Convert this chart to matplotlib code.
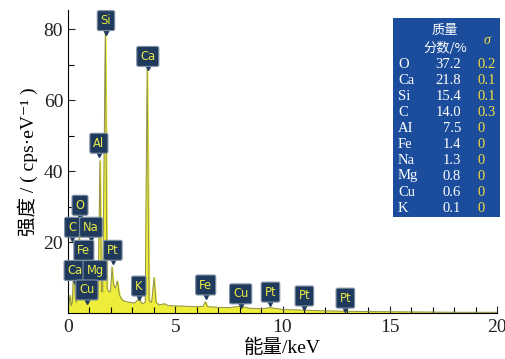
import numpy as np
import matplotlib
matplotlib.use("Agg")
import matplotlib.pyplot as plt
import matplotlib.transforms as mtransforms

plt.rcParams['font.family'] = ['Liberation Serif', 'DejaVu Serif', 'Noto Sans CJK SC']

# --- spectrum (keV, cps/eV) ---
energy = [0.00, 0.05, 0.10, 0.15, 0.20, 0.28, 0.34, 0.40, 0.48, 0.525, 0.57, 0.62,
          0.70, 0.76, 0.82, 0.90, 0.96, 1.04, 1.10, 1.16, 1.25, 1.32, 1.40, 1.49,
          1.56, 1.62, 1.74, 1.82, 1.90, 1.98, 2.05, 2.12, 2.20, 2.30, 2.40, 2.55,
          2.70, 2.90, 3.10, 3.31, 3.45, 3.60, 3.69, 3.78, 3.90, 4.01, 4.10, 4.25,
          4.50, 4.65, 5.0, 5.5, 6.0, 6.3, 6.40, 6.5, 7.0, 7.5, 8.05, 8.5, 9.0,
          9.44, 10.0, 11.0, 12.0, 13.0, 14.0, 16.0, 18.0, 20.0]
intensity = [0, 3, 5, 2, 3, 15, 4, 3, 6, 22, 6, 4,
             11, 4, 3.5, 5, 4, 17, 5, 4, 10, 4.5, 5, 43,
             6, 6, 80, 7, 6, 6, 13, 8, 7, 9, 5, 3.5,
             3.2, 3, 2.8, 4, 2.6, 3, 69, 3.5, 3, 10, 3, 2.3,
             2.6, 2.1, 2.0, 1.9, 1.8, 1.9, 3.2, 1.8, 1.6, 1.5, 1.9, 1.3, 1.2,
             1.5, 1.0, 0.8, 0.6, 0.5, 0.4, 0.3, 0.2, 0.2]

# peak tags: name, x (keV), y (cps/eV)
tag_names = ['Si', 'Ca', 'Al', 'O', 'C', 'Na', 'Fe', 'Pt', 'Ca', 'Mg', 'Cu',
             'K', 'Fe', 'Cu', 'Pt', 'Pt', 'Pt']
tag_x = [1.77, 3.72, 1.44, 0.56, 0.19, 1.07, 0.74, 2.09, 0.33, 1.26, 0.88,
         3.30, 6.42, 8.05, 9.44, 11.02, 12.93]
tag_y = [82.5, 72.4, 47.9, 30.4, 24.2, 24.2, 17.7, 17.7, 12.0, 12.0, 6.5,
         7.6, 7.9, 5.4, 5.9, 4.8, 4.2]

# table
elements = ['O', 'Ca', 'Si', 'C', 'AI', 'Fe', 'Na', 'Mg', 'Cu', 'K']
mass_pct = ['37.2', '21.8', '15.4', '14.0', '7.5', '1.4', '1.3', '0.8', '0.6', '0.1']
sigma = ['0.2', '0.1', '0.1', '0.3', '0', '0', '0', '0', '0', '0']

W, H = 506, 359
fig = plt.figure(figsize=(W / 100, H / 100), dpi=100)
ax = fig.add_axes([68 / W, 1 - 313 / H, (497 - 68) / W, (313 - 10) / H])

ax.fill_between(energy, intensity, 0, color='#eeee3a', lw=1.2, edgecolor='#eeee3a')
ax.plot(energy, intensity, color='#8f8f55', lw=0.7)

ax.set_xlim(0, 20)
ax.set_ylim(0, 85.5)
ax.spines['top'].set_visible(False)
ax.spines['right'].set_visible(False)
ax.set_xticks([0, 5, 10, 15, 20])
ax.set_xticks(np.arange(0, 21, 1), minor=True)
ax.set_yticks([20, 40, 60, 80])
ax.set_yticks([10, 30, 50, 70], minor=True)
ax.tick_params(direction='in', labelsize=14, colors='#222222', length=5, width=0.8)
ax.tick_params(which='minor', direction='in', length=4, width=0.8)
ax.tick_params(axis='x', pad=4)

ax.set_xlabel('能量/keV', fontsize=14, labelpad=2)
ax.set_ylabel('强度 / ( cps·eV⁻¹ )', fontsize=14, labelpad=4)

# peak tags with small pointer below
tip = mtransforms.offset_copy(ax.transData, fig=fig, x=0, y=-10, units='dots')
for name, xx, yy in zip(tag_names, tag_x, tag_y):
    ax.plot(xx, yy, marker='v', ms=5.5, color='#1f3a5c', transform=tip, zorder=4)
    ax.text(xx, yy, name, ha='center', va='center', fontsize=8.3,
            family='DejaVu Sans', color='#e8e846', zorder=5,
            bbox=dict(boxstyle='round,pad=0.3,rounding_size=0.15',
                      fc='#1f3a5c', ec='#7d8fa3', lw=0.8))

# composition table
tab = fig.add_axes([393 / W, 1 - 217 / H, 107 / W, 199 / H])
tab.set_xlim(0, 107)
tab.set_ylim(199, 0)
tab.set_facecolor('#1b4d9c')
tab.set_xticks([])
tab.set_yticks([])
for s in tab.spines.values():
    s.set_visible(False)

tab.text(52, 12, '质量', ha='center', va='center', fontsize=9.5, color='white',
         family=['Noto Sans CJK SC'])
tab.text(52, 30, '分数/%', ha='center', va='center', fontsize=9.5, color='white',
         family=['Noto Sans CJK SC', 'DejaVu Sans'])
tab.text(94, 22, 'σ', ha='center', va='center', fontsize=10, color='#f0e040',
         style='italic')
for i, (el, m, s) in enumerate(zip(elements, mass_pct, sigma)):
    yy = 46 + 16 * i
    tab.text(5, yy, el, ha='left', va='center', fontsize=10.5, color='white')
    tab.text(68, yy, m, ha='right', va='center', fontsize=10.5, color='white')
    tab.text(85, yy, s, ha='left', va='center', fontsize=10.5, color='#f0e040')

fig.savefig('out.png', dpi=100)
